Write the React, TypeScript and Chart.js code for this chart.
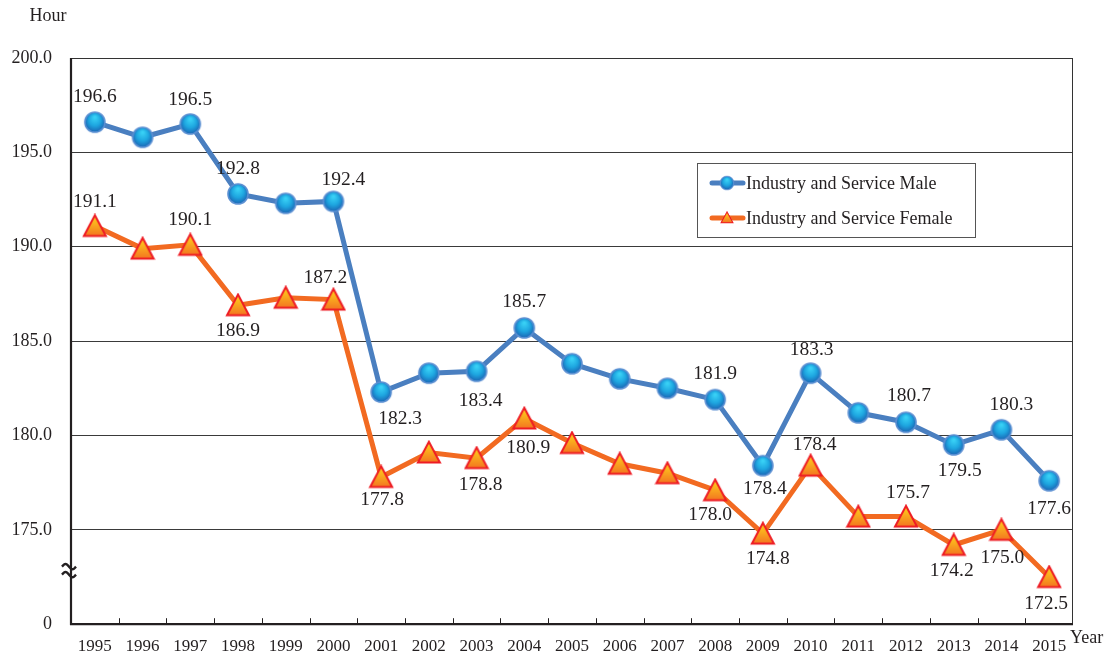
import React, { useEffect, useRef } from "react";
import { Chart, registerables } from "chart.js";

Chart.register(...registerables);

const years = ["1995","1996","1997","1998","1999","2000","2001","2002","2003","2004","2005","2006","2007","2008","2009","2010","2011","2012","2013","2014","2015"];
const maleHours = [196.6,195.8,196.5,192.8,192.3,192.4,182.3,183.3,183.4,185.7,183.8,183.0,182.5,181.9,178.4,183.3,181.2,180.7,179.5,180.3,177.6];
const femaleHours = [191.1,189.9,190.1,186.9,187.3,187.2,177.8,179.1,178.8,180.9,179.6,178.5,178.0,177.1,174.8,178.4,175.7,175.7,174.2,175.0,172.5];
const maleLabels: (string | null)[] = ["196.6",null,"196.5","192.8",null,"192.4","182.3",null,"183.4","185.7",null,null,null,"181.9","178.4","183.3",null,"180.7","179.5","180.3","177.6"];
const femaleLabels: (string | null)[] = ["191.1",null,"190.1","186.9",null,"187.2","177.8",null,"178.8","180.9",null,null,null,"178.0","174.8","178.4",null,"175.7","174.2","175.0","172.5"];
const yTicks = [170, 175, 180, 185, 190, 195, 200];
const seriesNames = ["Industry and Service Male", "Industry and Service Female"];

// label placement (layout only), [dx, dy] relative to the point
const maleOffsets: Record<number, [number, number]> = {
  0: [0, -25], 2: [0, -24], 3: [0, -25], 5: [10, -22], 6: [19, 27], 8: [4, 30], 9: [0, -26],
  13: [0, -26], 14: [2, 23], 15: [1, -23], 17: [3, -26], 18: [6, 26], 19: [10, -25], 20: [0, 28],
};
const femaleOffsets: Record<number, [number, number]> = {
  0: [0, -24], 2: [0, -25], 3: [0, 26], 5: [-8, -22], 6: [1, 23], 8: [4, 27], 9: [4, 29],
  13: [-5, 25], 14: [5, 25], 15: [4, -21], 17: [2, -24], 18: [-2, 26], 19: [1, 28], 20: [-3, 27],
};

const SERIF = "'Liberation Serif', 'Times New Roman', serif";
const TEXT = "#231f20";
const MALE_LINE = "#4a7fc0";
const FEMALE_LINE = "#f26a21";

function makeCircle(): HTMLCanvasElement {
  const c = document.createElement("canvas");
  c.width = 24; c.height = 24;
  const g = c.getContext("2d")!;
  const grad = g.createRadialGradient(12, 7, 1, 12, 12, 11);
  grad.addColorStop(0, "#38d0f5");
  grad.addColorStop(0.5, "#1ea6e0");
  grad.addColorStop(1, "#1a5cae");
  g.beginPath();
  g.arc(12, 12, 10, 0, Math.PI * 2);
  g.fillStyle = grad;
  g.fill();
  g.lineWidth = 1.6;
  g.strokeStyle = "#5a8fd2";
  g.stroke();
  return c;
}

function makeTriangle(): HTMLCanvasElement {
  const c = document.createElement("canvas");
  c.width = 26; c.height = 25;
  const g = c.getContext("2d")!;
  const grad = g.createLinearGradient(0, 2, 0, 23);
  grad.addColorStop(0, "#ffd51c");
  grad.addColorStop(1, "#f37321");
  g.beginPath();
  g.moveTo(13, 1.8);
  g.lineTo(24, 22.5);
  g.lineTo(2, 22.5);
  g.closePath();
  g.fillStyle = grad;
  g.fill();
  g.lineWidth = 2;
  g.lineJoin = "miter";
  g.strokeStyle = "#ee1c24";
  g.stroke();
  return c;
}

export default function App() {
  const ref = useRef<HTMLCanvasElement | null>(null);

  useEffect(() => {
    if (!ref.current) return;
    const circle = makeCircle();
    const tri = makeTriangle();

    const framePlugin = {
      id: "frame",
      beforeDatasetsDraw(chart: any) {
        const { ctx, chartArea: a, scales } = chart;
        ctx.save();
        ctx.strokeStyle = "#333";
        ctx.lineWidth = 1;
        ctx.beginPath();
        ctx.moveTo(a.left, a.top + 0.5);
        ctx.lineTo(a.right - 0.5, a.top + 0.5);
        ctx.lineTo(a.right - 0.5, a.bottom);
        ctx.stroke();
        const xs = scales.x;
        const step = (a.right - a.left) / years.length;
        ctx.strokeStyle = TEXT;
        ctx.lineWidth = 1;
        for (let i = 1; i < years.length; i++) {
          const x = Math.round(xs.left + step * i) + 0.5;
          ctx.beginPath();
          ctx.moveTo(x, a.bottom);
          ctx.lineTo(x, a.bottom - 6);
          ctx.stroke();
        }
        ctx.strokeStyle = TEXT;
        ctx.lineWidth = 2.2;
        ctx.beginPath();
        ctx.moveTo(a.left, a.top);
        ctx.lineTo(a.left, a.bottom);
        ctx.lineTo(a.right, a.bottom);
        ctx.stroke();
        const ys = scales.y;
        const by = (ys.getPixelForValue(172.5) + ys.getPixelForValue(170)) / 2 - 30;
        ctx.lineWidth = 2.4;
        for (const off of [-4, 4]) {
          ctx.beginPath();
          const x0 = a.left - 9, x1 = a.left + 5;
          for (let t = 0; t <= 20; t++) {
            const x = x0 + ((x1 - x0) * t) / 20;
            const y = by + off + Math.sin((t / 20) * Math.PI * 2) * -2.6;
            if (t === 0) ctx.moveTo(x, y); else ctx.lineTo(x, y);
          }
          ctx.stroke();
        }
        ctx.restore();
      },
      afterDatasetsDraw(chart: any) {
        const { ctx } = chart;
        ctx.save();
        ctx.font = `19.5px ${SERIF}`;
        ctx.fillStyle = TEXT;
        ctx.textAlign = "center";
        ctx.textBaseline = "middle";
        const sets: [number, (string | null)[], Record<number, [number, number]>][] = [
          [0, maleLabels, maleOffsets],
          [1, femaleLabels, femaleOffsets],
        ];
        for (const [di, labels, offs] of sets) {
          const meta = chart.getDatasetMeta(di);
          labels.forEach((t, i) => {
            if (!t) return;
            const el = meta.data[i];
            const o = offs[i] || [0, -25];
            ctx.fillText(t, el.x + o[0], el.y + o[1]);
          });
        }
        const a = chart.chartArea;
        const lx = a.left + 626, ly = a.top + 105, lw = 278, lh = 74;
        ctx.fillStyle = "#fff";
        ctx.fillRect(lx, ly, lw, lh);
        ctx.strokeStyle = "#555";
        ctx.lineWidth = 1;
        ctx.strokeRect(lx + 0.5, ly + 0.5, lw, lh);
        const rows: [string, string, HTMLCanvasElement][] = [
          [seriesNames[0], MALE_LINE, circle],
          [seriesNames[1], FEMALE_LINE, tri],
        ];
        rows.forEach(([name, col, img], r) => {
          const cy = ly + 20 + r * 35;
          ctx.strokeStyle = col;
          ctx.lineWidth = 5;
          ctx.lineCap = "round";
          ctx.beginPath();
          ctx.moveTo(lx + 15, cy);
          ctx.lineTo(lx + 46, cy);
          ctx.stroke();
          if (r === 0) ctx.drawImage(img, lx + 30 - 8, cy - 8, 16, 16);
          else ctx.drawImage(img, lx + 30 - 7, cy - 7, 14, 13);
          ctx.fillStyle = TEXT;
          ctx.font = `18px ${SERIF}`;
          ctx.textAlign = "left";
          ctx.fillText(name, lx + 49, cy + 1);
        });
        ctx.restore();
      },
      afterDraw(chart: any) {
        const { ctx, chartArea: a } = chart;
        ctx.save();
        ctx.fillStyle = TEXT;
        ctx.font = `18px ${SERIF}`;
        ctx.textBaseline = "middle";
        ctx.textAlign = "center";
        ctx.fillText("Hour", 40, 8);
        ctx.textAlign = "left";
        ctx.fillText("Year", a.right - 3, a.bottom + 14);
        ctx.restore();
      },
    };

    const chart = new Chart(ref.current, {
      type: "line",
      data: {
        labels: years,
        datasets: [
          {
            label: seriesNames[0],
            data: maleHours,
            borderColor: MALE_LINE,
            borderWidth: 5,
            pointStyle: circle as any,
            pointRadius: 11,
            pointHoverRadius: 11,
            tension: 0,
            fill: false,
          },
          {
            label: seriesNames[1],
            data: femaleHours,
            borderColor: FEMALE_LINE,
            borderWidth: 5,
            pointStyle: tri as any,
            pointRadius: 12,
            pointHoverRadius: 12,
            tension: 0,
            fill: false,
          },
        ],
      },
      options: {
        animation: false,
        responsive: true,
        maintainAspectRatio: false,
        events: [],
        layout: { padding: { top: 50, right: 33, left: 0, bottom: 0 } },
        plugins: {
          legend: { display: false },
          tooltip: { enabled: false },
          title: { display: false },
        },
        scales: {
          x: {
            type: "category",
            offset: true,
            grid: { display: false, offset: true },
            border: { display: false },
            ticks: {
              color: TEXT,
              font: { family: SERIF, size: 17 },
              padding: 4,
              maxRotation: 0,
              autoSkip: false,
            },
            afterFit(s: any) { s.height = 28; },
          },
          y: {
            min: 170,
            max: 200,
            afterBuildTicks(s: any) { s.ticks = yTicks.map((v) => ({ value: v })); },
            grid: {
              color: (c: any) => (c.tick && c.tick.value === 170 ? "rgba(0,0,0,0)" : "#3a3a3a"),
              lineWidth: 1,
              drawTicks: false,
            },
            border: { display: false },
            ticks: {
              color: TEXT,
              font: { family: SERIF, size: 18 },
              padding: 19,
              callback: (v: any) => (Number(v) === 170 ? "0" : Number(v).toFixed(1)),
            },
            afterFit(s: any) { s.width = 63; },
          },
        },
      },
      plugins: [framePlugin],
    });
    return () => chart.destroy();
  }, []);

  return (
    <div style={{ width: 1098, height: 646 }}>
      <canvas ref={ref} />
    </div>
  );
}
